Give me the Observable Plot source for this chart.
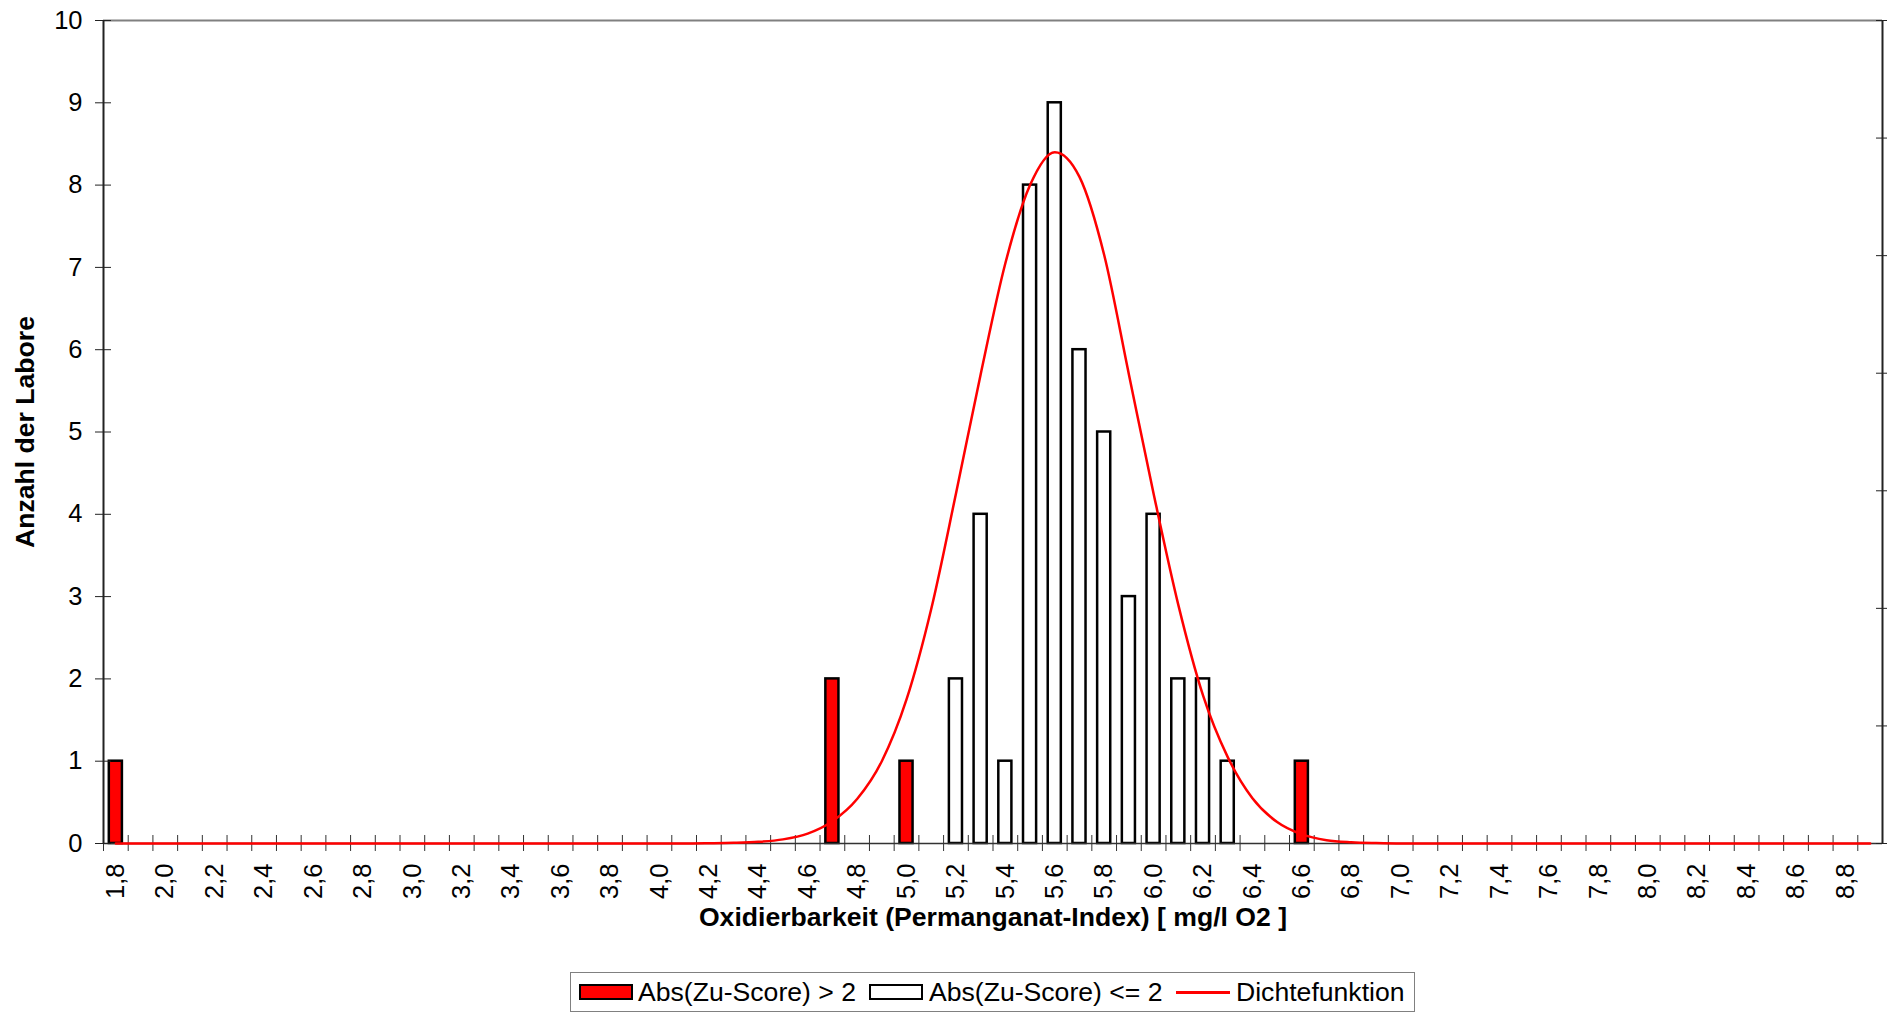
<!DOCTYPE html>
<html>
<head>
<meta charset="utf-8">
<script src="https://cdn.jsdelivr.net/npm/d3@7"></script>
<script src="https://cdn.jsdelivr.net/npm/@observablehq/plot@0.6"></script>
<style>
  body { margin: 0; background: #fff; font-family: "Liberation Sans", Arial, sans-serif; }
  #wrap { position: relative; width: 1887px; height: 1013px; overflow: hidden; }
  #legend { position: absolute; left: 570px; top: 972px; width: 845px; height: 40px; border: 1px solid #808080; box-sizing: border-box; font-size: 26.6px; color: #000; }
  #legend .sw { position: absolute; top: 11px; width: 54px; height: 16px; border: 2px solid #000; box-sizing: border-box; }
  #legend .ln { position: absolute; top: 18px; width: 54px; height: 3px; background: #ff0000; }
  #legend .tx { position: absolute; top: 0; line-height: 38px; white-space: nowrap; }
</style>
</head>
<body>
<div id="wrap">
  <div id="chart"></div>
  <div id="legend"></div>
</div>
<script>
// ---- data ----
const bins = ["1,8","1,9","2,0","2,1","2,2","2,3","2,4","2,5","2,6","2,7","2,8","2,9",
  "3,0","3,1","3,2","3,3","3,4","3,5","3,6","3,7","3,8","3,9",
  "4,0","4,1","4,2","4,3","4,4","4,5","4,6","4,7","4,8","4,9",
  "5,0","5,1","5,2","5,3","5,4","5,5","5,6","5,7","5,8","5,9",
  "6,0","6,1","6,2","6,3","6,4","6,5","6,6","6,7","6,8","6,9",
  "7,0","7,1","7,2","7,3","7,4","7,5","7,6","7,7","7,8","7,9",
  "8,0","8,1","8,2","8,3","8,4","8,5","8,6","8,7","8,8","8,9"];

const outlierBins   = ["1,8", "4,7", "5,0", "6,6"];
const outlierCounts = [1, 2, 1, 1];

const normalBins   = ["5,2","5,3","5,4","5,5","5,6","5,7","5,8","5,9","6,0","6,1","6,2","6,3"];
const normalCounts = [2, 4, 1, 8, 9, 6, 5, 3, 4, 2, 2, 1];

// density curve, read at each bin (in units of the left axis)
const density = [
  0,0,0,0,0,0,0,0,0,0,0,0,          // 1,8 .. 2,9
  0,0,0,0,0,0,0,0,0,0,              // 3,0 .. 3,9
  0,0,0.003,0.008,0.02,0.05,0.12,0.27,0.54,1.0,   // 4,0 .. 4,9
  1.75,2.85,4.25,5.7,7.05,8.0,8.4,8.1,7.15,5.7,   // 5,0 .. 5,9
  4.25,2.9,1.8,1.05,0.55,0.26,0.11,0.04,0.015,0.005, // 6,0 .. 6,9
  0,0,0,0,0,0,0,0,0,0,              // 7,0 .. 7,9
  0,0,0,0,0,0,0,0,0,0               // 8,0 .. 8,9
];

const yTicks = [0,1,2,3,4,5,6,7,8,9,10];
const xTickLabels = ["1,8","2,0","2,2","2,4","2,6","2,8","3,0","3,2","3,4","3,6","3,8",
  "4,0","4,2","4,4","4,6","4,8","5,0","5,2","5,4","5,6","5,8","6,0","6,2","6,4","6,6","6,8",
  "7,0","7,2","7,4","7,6","7,8","8,0","8,2","8,4","8,6","8,8"];
const densityAxisSteps = [0,1,2,3,4,5,6,7];   // unlabeled secondary axis divisions
const yMax = 10;

const xTitle = "Oxidierbarkeit (Permanganat-Index) [ mg/l O2 ]";
const yTitle = "Anzahl der Labore";
const legendItems = ["Abs(Zu-Score) > 2", "Abs(Zu-Score) <= 2", "Dichtefunktion"];

// ---- tables ----
const outlierTable = outlierBins.map((b, i) => ({bin: b, count: outlierCounts[i]}));
const normalTable = normalBins.map((b, i) => ({bin: b, count: normalCounts[i]}));
const densTable = bins.map((b, i) => ({bin: b, value: density[i]}));
const densTickVals = densityAxisSteps.map(k => k * yMax / densityAxisSteps[densityAxisSteps.length - 1]);

// ---- layout ----
const W = 1887, H = 955, mL = 103, mR = 5, mT = 20, mB = H - 843;
const pad = 0.47;
const step = (W - mL - mR) / bins.length;

const chart = Plot.plot({
  width: W, height: H,
  marginLeft: mL, marginRight: mR, marginTop: mT, marginBottom: mB,
  style: {fontFamily: "Liberation Sans, Arial, sans-serif", fontSize: "25.5px", color: "#000", background: "#fff", overflow: "visible"},
  x: {type: "band", domain: bins, paddingInner: pad, paddingOuter: pad / 2, align: 0.5, axis: null},
  y: {domain: [0, yMax], axis: null},
  marks: [
    Plot.ruleY([yMax], {stroke: "#808080", strokeWidth: 2}),
    Plot.rectY(normalTable, {x: "bin", y: "count", fill: "#ffffff", stroke: "#000", strokeWidth: 2.5}),
    Plot.rectY(outlierTable, {x: "bin", y: "count", fill: "#ff0000", stroke: "#000", strokeWidth: 2.5}),
    Plot.ruleY([0], {stroke: "#333", strokeWidth: 1.5}),
    // x tick marks at bin boundaries (crossing the axis)
    Plot.axisX({ticks: bins, tickSize: 16, dy: -8, dx: -step / 2, tickFormat: () => "", stroke: "#333", label: null}),
    Plot.axisX({ticks: xTickLabels, tickSize: 0, tickPadding: 20, tickRotate: -90, fontSize: 25.5, label: null}),
    // left axis
    Plot.ruleX([bins[0]], {dx: -step / 2, stroke: "#222", strokeWidth: 2}),
    Plot.axisY({ticks: yTicks, tickSize: 16, dx: 8, tickFormat: () => "", stroke: "#222", label: null}),
    Plot.axisY({ticks: yTicks, tickSize: 0, tickPadding: 21, fontSize: 25.5, label: null}),
    // right (secondary) axis
    Plot.ruleX([bins[bins.length - 1]], {dx: step / 2, stroke: "#222", strokeWidth: 2}),
    Plot.axisY({anchor: "right", ticks: densTickVals, tickSize: 14, dx: -7, tickFormat: () => "", stroke: "#222", label: null}),
    // density curve
    Plot.line(densTable, {x: "bin", y: "value", stroke: "#ff0000", strokeWidth: 2.5, curve: "monotone-x"}),
    // titles
    Plot.text([xTitle], {text: d => d, frameAnchor: "bottom", dy: 82, fontWeight: "bold", fontSize: 26.6}),
    Plot.text([yTitle], {text: d => d, frameAnchor: "left", textAnchor: "middle", rotate: -90, dx: -78, fontWeight: "bold", fontSize: 26.6})
  ]
});
document.getElementById("chart").appendChild(chart);

// ---- legend ----
const lg = document.getElementById("legend");
lg.innerHTML =
  `<div class="sw" style="left:8px;background:#ff0000"></div>` +
  `<span class="tx" style="left:67px">${legendItems[0]}</span>` +
  `<div class="sw" style="left:298px;background:#fff"></div>` +
  `<span class="tx" style="left:358px">${legendItems[1]}</span>` +
  `<div class="ln" style="left:605px"></div>` +
  `<span class="tx" style="left:665px">${legendItems[2]}</span>`;
</script>
</body>
</html>
